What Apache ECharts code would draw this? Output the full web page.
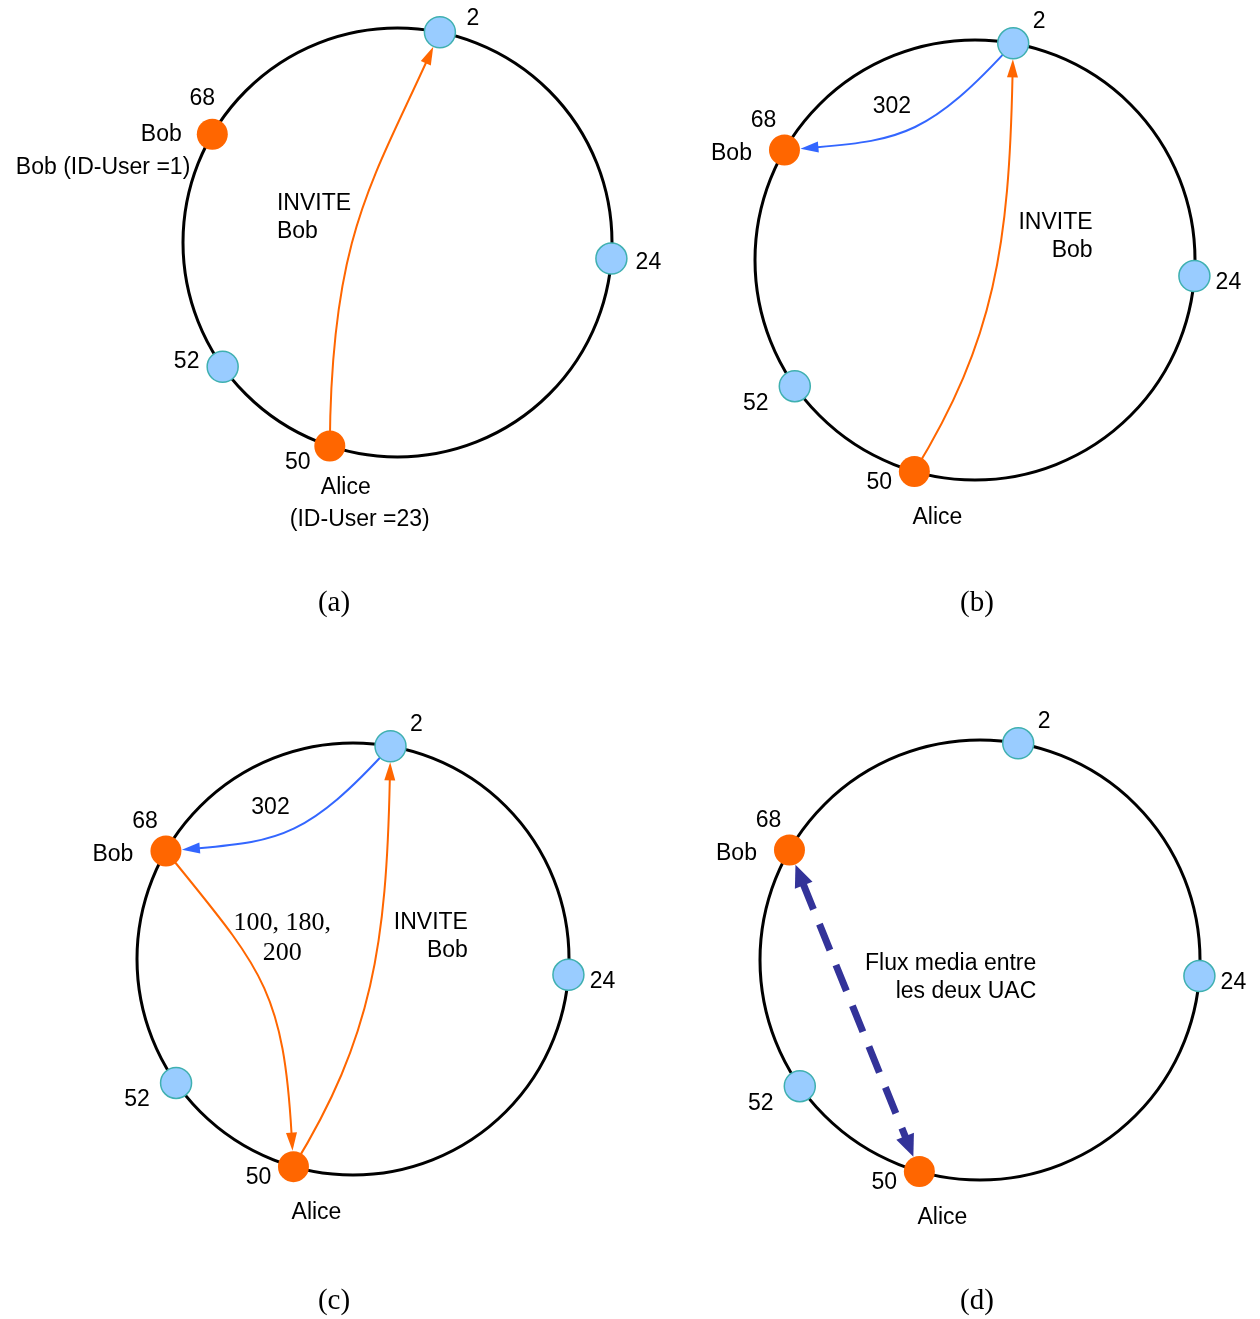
<!DOCTYPE html>
<html>
<head>
<meta charset="utf-8">
<title>Anneau Chord - appel SIP</title>
<script src="https://cdn.jsdelivr.net/npm/echarts@6/dist/echarts.min.js"></script>
<style>
html, body { margin: 0; padding: 0; background: #fff; }
#chart { width: 1260px; height: 1319px; }
</style>
</head>
<body>
<div id="chart"></div>
<script>
// --- data ---
const panels = ['(a)', '(b)', '(c)', '(d)'];
const nodeIds = [2, 24, 50, 52, 68];
// place of each node on the ring, in degrees (counter-clockwise from 3 o'clock)
const ringAnglesA = [78.6, -4.3, -108.4, -144.6, 149.7];
const ringAnglesBCD = [80, -4.2, -106, -145, 150];
const userIds = [50, 68];
const userNames = ['Alice', 'Bob'];
const userIdTexts = ['(ID-User =23)', 'Bob (ID-User =1)'];
// messages : [from, to, text]
const messagesA = [[50, 2, 'INVITE\nBob']];
const messagesB = [[2, 68, '302'], [50, 2, 'INVITE\nBob']];
const messagesC = [[2, 68, '302'], [50, 2, 'INVITE\nBob'], [68, 50, '100, 180,\n200']];
const messagesD = [[68, 50, 'Flux media entre\nles deux UAC']];

// --- layout / styles ---
const ORANGE = '#ff6600';
const SKY = '#99ccff';
const TEAL = '#3fb0b0';
const BLUE = '#3366ff';
const NAVY = '#333399';
const SANS = '"Liberation Sans", Arial, sans-serif';
const SERIF = '"Liberation Serif", "Times New Roman", serif';
const NODE_R = 16;

const gridBoxes = [[183, 28, 429], [755, 40, 440], [137, 743, 432], [760, 740, 440]];
const captionXY = [[334, 603], [977, 603], [334, 1301], [977, 1301]];

const numOffA = { 2: [33, -14], 24: [37, 4], 52: [-36, -5], 50: [-32, 17], 68: [-10, -36] };
const numOff = { 2: [26, -22], 24: [34, 7], 52: [-39, 17], 50: [-35, 11], 68: [-21, -29] };

const inviteCurve = { color: ORANGE, ctrl: [[0.091, -0.364], [0.1545, 0.0727]] };
const redirectCurve = { color: BLUE, ctrl: [[-0.2045, 0.568], [-0.341, 0.545]] };

const arrowStyles = [
  [{ color: ORANGE, ctrl: [[-0.31, 0.007], [-0.126, 0.27]], at: [-0.562, 0.1166], align: 'left' }],
  [
    Object.assign({ at: [-0.378, 0.699], align: 'center' }, redirectCurve),
    Object.assign({ at: [0.5345, 0.106], align: 'right' }, inviteCurve)
  ],
  [
    Object.assign({ at: [-0.382, 0.701], align: 'center' }, redirectCurve),
    Object.assign({ at: [0.532, 0.1055], align: 'right' }, inviteCurve),
    { color: ORANGE, ctrl: [[-0.428, -0.042], [-0.324, -0.13]], at: [-0.328, 0.095], align: 'center', serif: true, lh: 30 }
  ],
  [{ color: NAVY, dashed: true, at: [0.256, -0.08], align: 'right' }]
];

// names next to the user nodes: [node, text, dx, dy, align]
const rolesA = [
  [68, userNames[1], -51, 0, 'center'],
  [68, userIdTexts[1], -22, 33, 'right'],
  [50, userNames[0], 16, 42, 'center'],
  [50, userIdTexts[0], 30, 74, 'center']
];
const rolesBCD = [
  [68, userNames[1], -53, 4, 'center'],
  [50, userNames[0], 23, 46, 'center']
];

const allMessages = [messagesA, messagesB, messagesC, messagesD];

function ringPos(angles, id) {
  const a = angles[nodeIds.indexOf(id)] * Math.PI / 180;
  return [Math.cos(a), Math.sin(a)];
}

function unitVec(a, b) {
  const dx = b[0] - a[0], dy = b[1] - a[1];
  const l = Math.hypot(dx, dy);
  return [dx / l, dy / l];
}

function head(tip, d, len, w, color) {
  const bx = tip[0] - d[0] * len, by = tip[1] - d[1] * len;
  const px = -d[1] * w / 2, py = d[0] * w / 2;
  return {
    type: 'polygon',
    shape: { points: [tip, [bx + px, by + py], [bx - px, by - py]] },
    style: { fill: color }
  };
}

const chart = echarts.init(document.getElementById('chart'));

const grid = [], xAxis = [], yAxis = [], series = [];

panels.forEach((p, i) => {
  const box = gridBoxes[i];
  grid.push({ left: box[0], top: box[1], width: box[2], height: box[2], show: false });
  xAxis.push({ gridIndex: i, type: 'value', min: -1, max: 1, show: false });
  yAxis.push({ gridIndex: i, type: 'value', min: -1, max: 1, show: false });

  const angles = i === 0 ? ringAnglesA : ringAnglesBCD;
  const offs = i === 0 ? numOffA : numOff;
  const roles = i === 0 ? rolesA : rolesBCD;
  const msgs = allMessages[i];
  const styles = arrowStyles[i];

  // ring
  series.push({
    type: 'custom', xAxisIndex: i, yAxisIndex: i, z: 1, silent: true,
    data: [[0, 0]],
    renderItem: (params, api) => {
      const c = api.coord([0, 0]);
      const r = api.size([1, 1])[0];
      return {
        type: 'circle',
        shape: { cx: c[0], cy: c[1], r: r },
        style: { stroke: '#000', lineWidth: 3, fill: 'none' }
      };
    }
  });

  // messages
  series.push({
    type: 'custom', xAxisIndex: i, yAxisIndex: i, z: 2, silent: true,
    data: msgs.map(m => ringPos(angles, m[0]).concat(ringPos(angles, m[1]))),
    renderItem: (params, api) => {
      const st = styles[params.dataIndex];
      const p0 = api.coord([api.value(0), api.value(1)]);
      const p3 = api.coord([api.value(2), api.value(3)]);
      if (st.dashed) {
        const d = unitVec(p0, p3);
        const tipA = [p0[0] + d[0] * NODE_R, p0[1] + d[1] * NODE_R];
        const tipB = [p3[0] - d[0] * NODE_R, p3[1] - d[1] * NODE_R];
        const L = 22;
        return {
          type: 'group',
          children: [
            {
              type: 'line',
              shape: {
                x1: tipA[0] + d[0] * (L - 2), y1: tipA[1] + d[1] * (L - 2),
                x2: tipB[0] - d[0] * (L - 2), y2: tipB[1] - d[1] * (L - 2)
              },
              style: { stroke: st.color, lineWidth: 7, lineDash: [28, 16] }
            },
            head(tipA, [-d[0], -d[1]], L, 19, st.color),
            head(tipB, d, L, 19, st.color)
          ]
        };
      }
      const p1 = api.coord(st.ctrl[0]);
      const p2 = api.coord(st.ctrl[1]);
      const d = unitVec(p2, p3);
      const tip = [p3[0] - d[0] * NODE_R, p3[1] - d[1] * NODE_R];
      const HL = 18;
      const base = [tip[0] - d[0] * (HL - 1), tip[1] - d[1] * (HL - 1)];
      return {
        type: 'group',
        children: [
          {
            type: 'bezierCurve',
            shape: {
              x1: p0[0], y1: p0[1], cpx1: p1[0], cpy1: p1[1],
              cpx2: p2[0], cpy2: p2[1], x2: base[0], y2: base[1]
            },
            style: { stroke: st.color, lineWidth: 2, fill: 'none' }
          },
          head(tip, d, HL, 11, st.color)
        ]
      };
    }
  });

  // nodes
  series.push({
    type: 'scatter', xAxisIndex: i, yAxisIndex: i, z: 3, silent: true, clip: false,
    symbolSize: 31,
    data: nodeIds.map(id => ({
      name: String(id),
      value: ringPos(angles, id),
      itemStyle: userIds.includes(id)
        ? { color: ORANGE, borderWidth: 0, opacity: 1 }
        : { color: SKY, borderColor: TEAL, borderWidth: 1.5, opacity: 1 },
      label: { offset: offs[id] }
    })),
    itemStyle: { opacity: 1 },
    label: {
      show: true, position: 'inside', formatter: '{b}', opacity: 1,
      color: '#000', fontSize: 23, fontFamily: SANS, textBorderWidth: 0
    }
  });

  // texts: message labels and user names
  const texts = [];
  msgs.forEach((m, k) => {
    const st = styles[k];
    texts.push({
      value: st.at, text: m[2], dx: 0, dy: 0, align: st.align,
      size: st.serif ? 26 : 23, family: st.serif ? SERIF : SANS, lh: st.lh || 28
    });
  });
  roles.forEach(r => {
    texts.push({
      value: ringPos(angles, r[0]), text: r[1], dx: r[2], dy: r[3], align: r[4],
      size: 23, family: SANS, lh: 28
    });
  });
  series.push({
    type: 'custom', xAxisIndex: i, yAxisIndex: i, z: 4, silent: true,
    data: texts.map(t => t.value),
    renderItem: (params, api) => {
      const t = texts[params.dataIndex];
      const pt = api.coord([api.value(0), api.value(1)]);
      return {
        type: 'text',
        x: pt[0] + t.dx,
        y: pt[1] + t.dy,
        style: {
          text: t.text, fill: '#000', fontSize: t.size, fontFamily: t.family,
          align: t.align, verticalAlign: 'middle', lineHeight: t.lh
        }
      };
    }
  });
});

chart.setOption({
  animation: false,
  backgroundColor: '#fff',
  grid: grid,
  xAxis: xAxis,
  yAxis: yAxis,
  series: series,
  graphic: panels.map((p, i) => ({
    type: 'text',
    x: captionXY[i][0],
    y: captionXY[i][1],
    style: {
      text: p, fill: '#000', fontSize: 29, fontFamily: SERIF,
      align: 'center', verticalAlign: 'middle'
    }
  }))
});
</script>
</body>
</html>
